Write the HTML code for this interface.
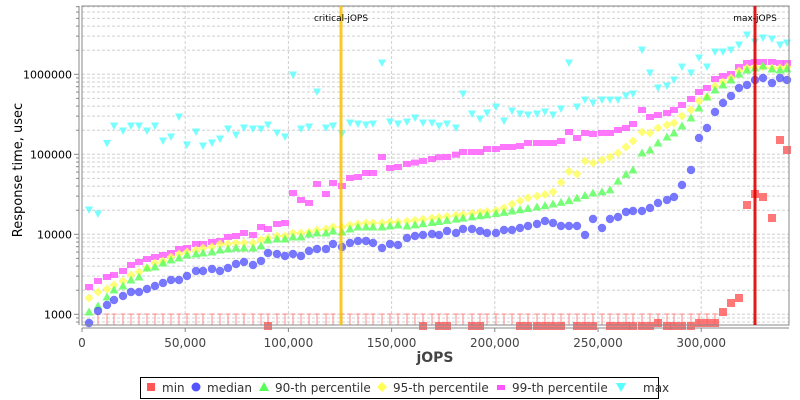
<!DOCTYPE html>
<html><head><meta charset="utf-8"><style>
html,body{margin:0;padding:0;background:#fff;width:800px;height:400px;overflow:hidden}
svg{display:block;font-family:"DejaVu Sans","Liberation Sans",sans-serif}
</style></head><body>
<svg id="s" width="800" height="400" xmlns="http://www.w3.org/2000/svg">
<rect x="82" y="6" width="707" height="319" fill="#fff"/>
<g id="grid"></g>
<g id="pts"></g>
<rect x="82" y="6" width="707" height="319" fill="none" stroke="#888" stroke-width="1"/>
<line x1="82" y1="328" x2="789" y2="328" stroke="#888"/>
<line x1="79" y1="6" x2="79" y2="325" stroke="#888"/>
<g id="ticks"></g>
<line x1="341" y1="6" x2="341" y2="325" stroke="#f8c000" stroke-width="3" opacity="0.85"/>
<text x="341" y="21" font-size="9" text-anchor="middle" fill="#000">critical-jOPS</text>
<line x1="755" y1="6" x2="755" y2="325" stroke="#e00000" stroke-width="3" opacity="0.9"/>
<text x="755" y="21" font-size="9" text-anchor="middle" fill="#000">max-jOPS</text>
<text transform="translate(22,170) rotate(-90)" font-size="13" text-anchor="middle" fill="#000">Response time, usec</text>
<text x="435" y="362" font-size="14" font-weight="bold" text-anchor="middle" fill="#444">jOPS</text>
<rect x="140.5" y="377.5" width="518" height="21" fill="#fff" stroke="#000"/>
<g font-size="12" fill="#333">
<rect x="147" y="383" width="8" height="8" fill="#ff5555"/><text x="162" y="392">min</text>
<circle cx="196" cy="387" r="4.5" fill="#5555ff"/><text x="207" y="392">median</text>
<polygon points="264,382 269,391 259,391" fill="#55ff55"/><text x="275" y="392">90-th percentile</text>
<polygon points="382,382 387,387 382,392 377,387" fill="#ffff55"/><text x="393" y="392">95-th percentile</text>
<rect x="497" y="385" width="8" height="5" fill="#ff55ff"/><text x="512" y="392">99-th percentile</text>
<polygon points="616,383 626,383 621,392" fill="#55ffff"/><text x="643" y="392">max</text>
</g>
</svg>
<script>
const NS="http://www.w3.org/2000/svg";
function el(p,t,a){const e=document.createElementNS(NS,t);for(const k in a)e.setAttribute(k,a[k]);p.appendChild(e);return e;}
const grid=document.getElementById('grid'),ticks=document.getElementById('ticks'),pts=document.getElementById('pts');
// y log: 1000 at 314.3, 80px/decade
function Y(v){return 314.3-80*Math.log10(v/1000);}
for(let d=100;d<=1e7;d*=10){for(let m=1;m<10;m++){const y=Y(d*m);if(y<6||y>325)continue;
el(grid,'line',{x1:82,x2:789,y1:y,y2:y,stroke:'#d0d0d0','stroke-dasharray':'3,2','stroke-width':1});
el(ticks,'line',{x1:m==1?74:76,x2:79,y1:y,y2:y,stroke:'#888'});}}
[[1000,'1000'],[10000,'10000'],[100000,'100000'],[1000000,'1000000']].forEach(([v,t])=>{el(ticks,'text',{x:72,y:Y(v)+4,'font-size':11,'text-anchor':'end',fill:'#000'}).textContent=t;});
for(let i=0;i<=6;i++){const x=82+i*103.2;if(i>0)el(grid,'line',{x1:x,x2:x,y1:6,y2:325,stroke:'#d0d0d0','stroke-dasharray':'3,2'});
el(ticks,'line',{x1:x,x2:x,y1:328,y2:332,stroke:'#888'});
el(ticks,'text',{x:x,y:347,'font-size':12,'text-anchor':'middle',fill:'#444'}).textContent=i==0?'0':(i*50)+',000';}
const X=[89,98,107,114,123,131,139,147,155,163,171,179,187,196,203,212,220,228,236,244,253,261,268,277,285,293,301,309,317,326,333,342,350,358,366,373,382,390,398,407,415,423,432,439,447,456,463,472,480,487,496,504,512,520,528,537,545,553,561,569,577,585,593,602,610,618,626,633,642,650,658,667,674,682,691,699,707,715,723,731,739,747,755,763,772,780,787];
function interp(anch){return X.map(x=>{for(let i=0;i<anch.length-1;i++){const[a,b]=[anch[i],anch[i+1]];if(x>=a[0]&&x<=b[0]){return a[1]+(b[1]-a[1])*(x-a[0])/((b[0]-a[0])||1);}}return anch[anch.length-1][1];});}
const med=interp([[89,323],[98,311],[107,305],[114,300],[123,296],[131,292],[139,292],[147,289],[155,286],[163,283],[171,280],[179,280],[187,276],[196,271],[203,271],[212,269],[220,271],[228,268],[236,264],[244,262],[253,265],[261,261],[268,253],[277,254],[285,256],[293,254],[301,256],[309,251],[317,249],[326,249],[333,244],[342,247],[350,243],[358,241],[366,241],[373,243],[382,248],[390,244],[398,245],[400,245],[407,238],[415,236],[423,235],[432,234],[439,235],[447,231],[456,233],[463,229],[472,229],[480,231],[487,233],[496,233],[504,230],[512,230],[520,228],[528,226],[537,224],[545,221],[553,223],[561,226],[569,226],[577,226],[585,235],[593,219],[602,228],[610,219],[618,217],[626,212],[633,211],[642,211],[650,208],[658,203],[667,200],[674,197],[682,185],[691,170],[699,138],[707,128],[715,112],[723,103],[731,96],[739,88],[747,85],[755,80],[763,78],[772,83],[780,78],[787,80]]);
const g90=interp([[89,312],[98,306],[107,297],[114,290],[123,286],[131,280],[139,277],[147,268],[155,267],[163,263],[171,260],[179,258],[187,255],[196,254],[203,253],[212,252],[220,250],[228,249],[236,248],[244,248],[253,248],[261,246],[268,240],[277,239],[285,239],[293,237],[301,237],[309,234],[317,233],[326,233],[333,231],[342,232],[350,229],[358,227],[366,227],[373,227],[382,227],[390,226],[398,225],[400,227],[500,213],[543,206],[568,201],[593,193],[609,191],[617,182],[625,175],[633,170],[642,153],[650,150],[658,143],[667,137],[674,133],[682,126],[691,118],[699,108],[707,97],[715,90],[723,85],[731,80],[739,74],[747,70],[755,68],[763,66],[772,69],[780,70],[787,69]]);
const g95=interp([[89,298],[98,292],[107,289],[114,285],[123,281],[131,275],[139,272],[147,268],[155,263],[163,261],[171,257],[179,254],[187,252],[196,250],[203,248],[212,247],[220,244],[228,244],[236,243],[244,243],[253,243],[261,240],[268,238],[277,236],[285,236],[293,233],[301,233],[309,232],[317,230],[326,229],[333,227],[342,227],[350,225],[358,224],[366,223],[373,223],[382,223],[390,222],[398,222],[400,222],[500,210],[510,205],[527,198],[543,195],[552,193],[560,184],[568,171],[577,174],[585,161],[593,163],[602,160],[610,157],[618,153],[626,147],[633,141],[642,132],[650,133],[658,128],[667,125],[674,123],[682,116],[691,110],[699,101],[707,97],[715,86],[723,82],[731,78],[739,71],[747,68],[755,67],[763,67],[772,68],[780,68],[787,67]]);
const g99=interp([[89,287],[98,281],[107,277],[114,275],[123,271],[131,265],[139,262],[147,259],[155,257],[163,255],[171,253],[179,249],[187,248],[196,244],[203,244],[212,242],[220,241],[228,237],[236,236],[244,233],[253,235],[261,227],[268,229],[277,224],[285,223],[293,193],[301,200],[309,203],[317,184],[326,194],[333,183],[342,186],[350,178],[358,177],[366,173],[373,173],[382,157],[390,168],[398,167],[400,165],[413,163],[423,161],[432,159],[440,157],[448,157],[455,155],[463,152],[472,152],[480,152],[487,149],[496,149],[503,147],[512,147],[520,146],[528,143],[537,143],[545,143],[553,143],[561,141],[569,132],[577,138],[585,133],[593,134],[602,133],[610,133],[618,130],[626,128],[633,124],[642,110],[650,117],[658,115],[667,113],[674,110],[682,105],[691,99],[699,92],[707,88],[715,79],[723,76],[731,74],[739,67],[747,63],[755,62],[763,62],[772,62],[780,63],[787,63]]);
const gmax=interp([[89,210],[98,214],[106,146],[114,126],[123,131],[131,126],[139,126],[147,131],[155,126],[163,141],[171,137],[179,117],[187,145],[196,132],[203,146],[212,143],[220,139],[228,129],[236,135],[244,128],[253,129],[261,129],[268,125],[277,133],[285,137],[293,75],[301,129],[309,127],[317,92],[326,128],[333,126],[342,134],[350,123],[358,124],[366,125],[373,124],[382,63],[390,122],[398,124],[400,123],[407,122],[415,118],[423,123],[432,123],[439,126],[447,124],[456,128],[463,94],[472,114],[480,119],[487,113],[496,107],[504,121],[512,111],[520,114],[528,115],[537,114],[545,112],[553,115],[561,109],[569,63],[577,107],[585,100],[593,103],[602,100],[610,100],[618,100],[626,96],[633,94],[642,50],[650,73],[658,88],[667,86],[674,80],[682,67],[691,73],[699,58],[707,67],[715,52],[723,52],[731,50],[739,45],[747,35],[755,42],[763,38],[772,39],[780,45],[787,43]]);
// min
const minSq={268:326,423:326,439:326,447:326,472:326,480:326,520:326,528:326,537:326,545:326,553:326,561:326,577:326,585:326,593:326,610:326,618:326,626:326,633:326,642:326,650:326,658:323,667:326,674:326,682:326,691:326,699:323,707:323,715:323,723:312,731:303,739:298,747:205,755:194,763:197,772:218,780:140,787:150};
X.forEach(x=>{if(x<98)return;if(x<723){el(pts,'line',{x1:x,x2:x,y1:314,y2:325,stroke:'#ff8888','stroke-width':1});el(pts,'line',{x1:x-2.5,x2:x+2.5,y1:314,y2:314,stroke:'#ff8888','stroke-width':1});}});
const op=0.8;
X.forEach((x,i)=>{const y=gmax[i];el(pts,'polygon',{points:`${x-4},${y-3.5} ${x+4},${y-3.5} ${x},${y+4}`,fill:'#55ffff',opacity:op});});
X.forEach((x,i)=>{const y=g99[i];el(pts,'rect',{x:x-4,y:y-3,width:8,height:6,fill:'#ff55ff',opacity:op});});
X.forEach((x,i)=>{const y=g95[i];el(pts,'polygon',{points:`${x},${y-4.5} ${x+4.5},${y} ${x},${y+4.5} ${x-4.5},${y}`,fill:'#ffff55',opacity:op});});
X.forEach((x,i)=>{const y=g90[i];el(pts,'polygon',{points:`${x},${y-4.5} ${x+4.5},${y+3.5} ${x-4.5},${y+3.5}`,fill:'#55ff55',opacity:op});});
X.forEach((x,i)=>{el(pts,'circle',{cx:x,cy:med[i],r:4.2,fill:'#5555ff',opacity:op});});
for(const k in minSq){const x=+k,y=minSq[k];el(pts,'rect',{x:x-4,y:y-4,width:8,height:8,fill:'#ff5555',opacity:op});}
</script>
</body></html>
